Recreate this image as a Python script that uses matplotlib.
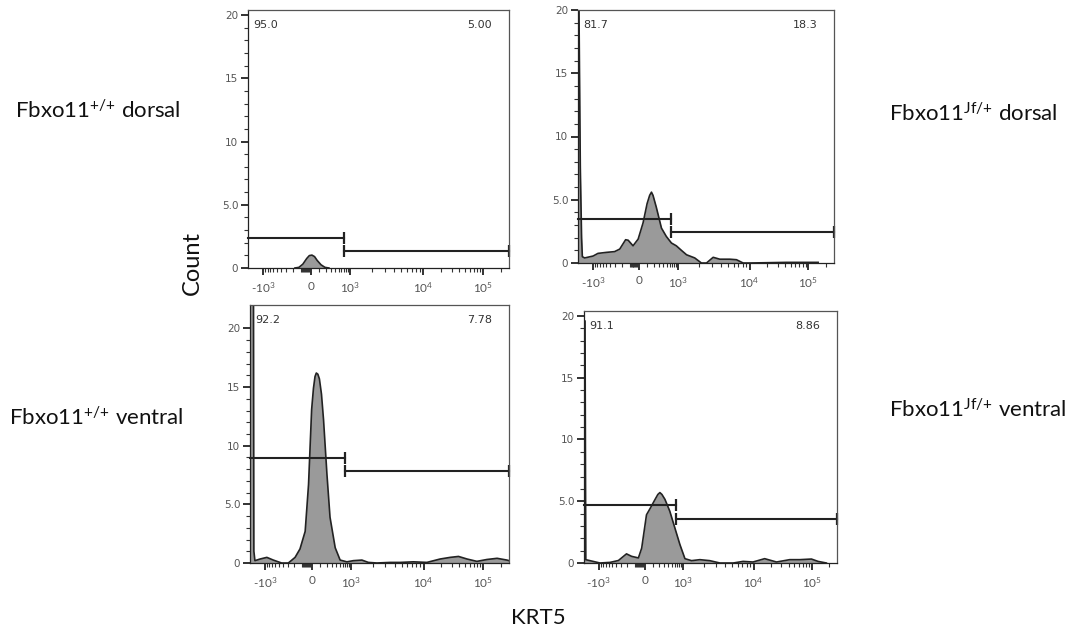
import numpy as np
import matplotlib
matplotlib.use("Agg")
import matplotlib.pyplot as plt

# --- data (x in display channels 0-1000, y = count) ---
p1_x = [180, 195, 210, 225, 235, 245, 255, 265, 280, 295, 310]
p1_y = [0, 0.05, 0.3, 0.75, 0.98, 1.02, 0.9, 0.6, 0.25, 0.05, 0]

p2_x = [0, 3, 9, 14, 17, 26, 59, 78, 111, 143, 163, 186, 196, 215, 235, 254, 270, 280,
        287, 293, 306, 326, 345, 365, 384, 404, 424, 456, 482, 502, 528, 554, 593, 619,
        645, 671, 815, 938]
p2_y = [30, 22, 7.6, 2.0, 0.5, 0.4, 0.55, 0.76, 0.84, 0.9, 1.1, 1.84, 1.8, 1.36, 1.89,
        3.16, 4.7, 5.35, 5.6, 5.35, 4.4, 2.76, 2.1, 1.58, 1.36, 1.0, 0.65, 0.4, 0.0, 0.0,
        0.45, 0.3, 0.3, 0.26, 0.0, 0.0, 0.05, 0.05]

p3_x = [0, 11, 15, 19, 39, 65, 90, 122, 148, 174, 193, 213, 226, 238, 245, 251, 256, 262,
        268, 276, 284, 297, 309, 329, 348, 374, 399, 432, 457, 490, 541, 580, 631, 683,
        734, 773, 805, 838, 876, 915, 954, 992, 1000]
p3_y = [60, 60, 1.0, 0.2, 0.34, 0.48, 0.25, 0, 0, 0.48, 1.2, 2.7, 6.7, 13.1, 14.9, 15.9,
        16.2, 16.1, 15.7, 14.4, 12.2, 7.6, 3.9, 1.3, 0.25, 0.1, 0.2, 0.25, 0.05, 0, 0.05,
        0.05, 0.1, 0.05, 0.34, 0.48, 0.56, 0.34, 0.14, 0.3, 0.4, 0.25, 0.2]

p4_x = [0, 4, 7, 36, 63, 103, 136, 168, 188, 215, 228, 247, 261, 281, 292, 300, 308, 320,
        339, 359, 379, 399, 425, 458, 497, 537, 590, 629, 668, 714, 761, 813, 853, 899,
        925, 958]
p4_y = [19.6, 19.6, 0.27, 0.13, 0, 0.05, 0.2, 0.74, 0.54, 0.41, 1.2, 3.9, 4.4, 5.15, 5.55,
        5.7, 5.55, 5.15, 4.2, 2.85, 1.5, 0.35, 0.19, 0.27, 0.19, 0, 0, 0.13, 0.08, 0.35,
        0.08, 0.27, 0.27, 0.32, 0.13, 0]

# gates: (left height, right height, split channel) and their percentages
gate_y_left = [2.35, 3.47, 8.97, 4.66]
gate_y_right = [1.37, 2.42, 7.82, 3.6]
gate_split = [369, 362, 368, 363]
pct_left = ["95.0", "81.7", "92.2", "91.1"]
pct_right = ["5.00", "18.3", "7.78", "8.86"]
y_top = [20.4, 20.0, 22.0, 20.4]

row_labels = [("Fbxo11$^{{+}/{+}}$ dorsal", 15, 117.7), ("Fbxo11$^{Jf/{+}}$ dorsal", 889, 120.7),
              ("Fbxo11$^{{+}/{+}}$ ventral", 9, 425), ("Fbxo11$^{Jf/{+}}$ ventral", 889, 417)]

# biexponential-ish axis: KRT5 value -> display channel
anchor_val = np.array([-1000, 0, 1000, 1e4, 1e5])
anchor_ch = np.array([58, 240, 390, 670, 900])


def to_channel(v):
    h = np.arcsinh(np.asarray(v, dtype=float) / 200)
    H = np.arcsinh(anchor_val / 200)
    out = np.interp(h, H, anchor_ch)
    lo = h < H[0]
    hi = h > H[-1]
    out[lo] = anchor_ch[0] + (h[lo] - H[0]) * (anchor_ch[1] - anchor_ch[0]) / (H[1] - H[0])
    out[hi] = anchor_ch[-1] + (h[hi] - H[-1]) * (anchor_ch[-1] - anchor_ch[-2]) / (H[-1] - H[-2])
    return out


major_vals = [-1000, 0, 1000, 1e4, 1e5]
major_labels = [r"-10$^{3}$", "0", r"10$^{3}$", r"10$^{4}$", r"10$^{5}$"]
minor_vals = ([-k * 100 for k in range(1, 10)] + [-k * 10 for k in range(1, 10)]
              + [k * 100 for k in range(1, 10)] + [k * 1000 for k in range(2, 10)]
              + [k * 10000 for k in range(2, 10)] + [2e5])

plt.rcParams["font.family"] = ["Lato", "DejaVu Sans"]
plt.rcParams["mathtext.fontset"] = "custom"
plt.rcParams["mathtext.rm"] = "Lato"
plt.rcParams["mathtext.it"] = "Lato"
plt.rcParams["mathtext.bf"] = "Lato"

fig = plt.figure(figsize=(10.82, 6.32), dpi=100)
boxes = [(248, 268, 261, 258), (578, 263, 256, 253), (250, 563, 259, 258), (584, 563, 253, 252)]
curves = [(p1_x, p1_y), (p2_x, p2_y), (p3_x, p3_y), (p4_x, p4_y)]

for i, (l, b, w, h) in enumerate(boxes):
    ax = fig.add_axes([l / 1082, 1 - b / 632, w / 1082, h / 632])
    x, y = curves[i]
    ax.fill_between(x, y, color="#9a9a9a", lw=0)
    ax.plot(x, y, color="#222222", lw=1.2)

    s = gate_split[i]
    ax.plot([0, s], [gate_y_left[i]] * 2, color="#222222", lw=1.5, clip_on=False)
    ax.plot([s], [gate_y_left[i]], marker="|", ms=8, mew=1.6, color="#222222", clip_on=False)
    ax.plot([s, 1000], [gate_y_right[i]] * 2, color="#222222", lw=1.5, clip_on=False)
    ax.plot([s, 1000], [gate_y_right[i]] * 2, ls="none", marker="|", ms=8, mew=1.6,
            color="#222222", clip_on=False)

    ax.text(0.02, 0.94, pct_left[i], transform=ax.transAxes, fontsize=8,
            color="#333333", ha="left", va="center", family="DejaVu Sans")
    ax.text(0.935, 0.94, pct_right[i], transform=ax.transAxes, fontsize=8,
            color="#333333", ha="right", va="center", family="DejaVu Sans")

    ax.set_xlim(0, 1000)
    ax.set_ylim(0, y_top[i])
    ax.set_xticks(to_channel(major_vals))
    ax.set_xticklabels(major_labels)
    ax.set_xticks(to_channel(minor_vals), minor=True)
    ax.set_yticks([0, 5, 10, 15, 20])
    ax.set_yticklabels(["0", "5.0", "10", "15", "20"])
    ax.set_yticks(range(0, 21), minor=True)
    ax.tick_params(which="major", length=5, width=1.3, color="#222222",
                   labelsize=7.5, labelcolor="#555555", pad=2)
    ax.tick_params(axis="x", which="major", pad=4, labelsize=8.5)
    ax.tick_params(which="minor", length=3, width=0.8, color="#333333")
    for t in ax.get_yticklabels():
        t.set_family("DejaVu Sans")
    for sp in ax.spines.values():
        sp.set_color("#555555")
        sp.set_linewidth(0.9)
    ax.spines["left"].set_color("#222222")
    ax.spines["bottom"].set_color("#222222")

for txt, px, py in row_labels:
    fig.text(px / 1082, 1 - py / 632, txt, fontsize=16, ha="left", va="baseline",
             color="#111111")

fig.text(192 / 1082, 1 - 263 / 632, "Count", rotation=90, fontsize=17, ha="center",
         va="center", color="#111111")
fig.text(538 / 1082, 1 - 618 / 632, "KRT5", fontsize=16, ha="center", va="center",
         color="#111111")

fig.savefig("out.png", dpi=100)
